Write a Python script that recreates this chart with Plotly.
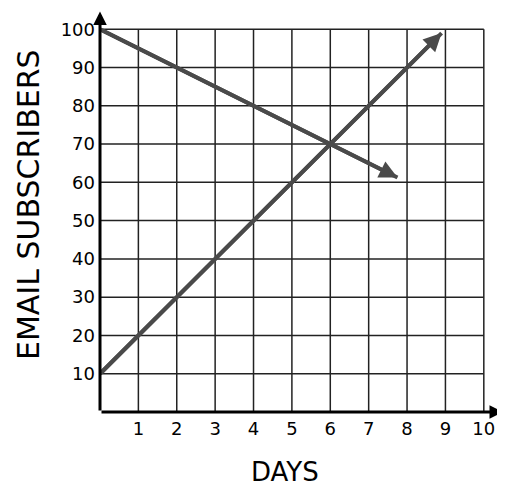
import plotly.graph_objects as go

# Data
x_ticks = [1, 2, 3, 4, 5, 6, 7, 8, 9, 10]
y_ticks = [10, 20, 30, 40, 50, 60, 70, 80, 90, 100]
up_x = [0, 8.9]
up_y = [10, 99]
down_x = [0, 7.75]
down_y = [100, 61.25]

LINE_COLOR = "#4a4a4a"
FONT = "DejaVu Sans"

fig = go.Figure()

# grid lines as shapes
shapes = []
for v in x_ticks:
    shapes.append(dict(type="line", xref="x", yref="y", x0=v, x1=v, y0=0, y1=max(y_ticks),
                       line=dict(color="#222222", width=1.5), layer="below"))
for v in y_ticks:
    shapes.append(dict(type="line", xref="x", yref="y", x0=0, x1=max(x_ticks), y0=v, y1=v,
                       line=dict(color="#222222", width=1.5), layer="below"))

for xs, ys in [(up_x, up_y), (down_x, down_y)]:
    fig.add_trace(go.Scatter(x=xs, y=ys, mode="lines",
                             line=dict(color=LINE_COLOR, width=4), hoverinfo="skip"))

annotations = []
# arrowheads for data lines
for xs, ys in [(up_x, up_y), (down_x, down_y)]:
    annotations.append(dict(x=xs[-1], y=ys[-1], ax=xs[0], ay=ys[0], xref="x", yref="y",
                            axref="x", ayref="y", text="", showarrow=True, arrowhead=2,
                            arrowsize=0.9, arrowwidth=4, arrowcolor=LINE_COLOR, standoff=0))
# axes with arrows
annotations.append(dict(x=10.5, y=0, ax=0, ay=0, xref="x", yref="y", axref="x", ayref="y",
                        text="", showarrow=True, arrowhead=2, arrowsize=0.9, arrowwidth=3,
                        arrowcolor="black", standoff=0))
annotations.append(dict(x=0, y=104.6, ax=0, ay=0, xref="x", yref="y", axref="x", ayref="y",
                        text="", showarrow=True, arrowhead=2, arrowsize=0.9, arrowwidth=3,
                        arrowcolor="black", standoff=0))
# axis titles
annotations.append(dict(text="DAYS", xref="paper", yref="paper", x=(277 - 92) / 403, y=-60 / 400,
                        showarrow=False, font=dict(family=FONT, size=26, color="black"),
                        xanchor="center", yanchor="middle"))
annotations.append(dict(text="EMAIL SUBSCRIBERS", xref="paper", yref="paper", x=-72 / 403,
                        y=(404 - 197) / 400, textangle=-90, showarrow=False,
                        font=dict(family=FONT, size=30, color="black"), borderpad=0,
                        xanchor="center", yanchor="middle"))

# page body has an 8px margin; the plot area is placed to match the window
fig.update_layout(
    width=505, height=488,
    margin=dict(l=92, r=10, t=4, b=84, autoexpand=False),
    paper_bgcolor="white", plot_bgcolor="white",
    showlegend=False,
    shapes=shapes, annotations=annotations,
    xaxis=dict(range=[0, 10.5], tickvals=x_ticks, ticktext=[str(v) for v in x_ticks],
               showgrid=False, zeroline=False, showline=False, ticks="", automargin=False,
               tickfont=dict(family=FONT, size=18, color="black"), ticklabelstandoff=4,
               fixedrange=True),
    yaxis=dict(range=[0, 104.5], tickvals=y_ticks, ticktext=[str(v) for v in y_ticks],
               showgrid=False, zeroline=False, showline=False, ticks="", automargin=False,
               tickfont=dict(family=FONT, size=18, color="black"), ticklabelstandoff=4,
               fixedrange=True),
)

fig.write_html("out.html")
